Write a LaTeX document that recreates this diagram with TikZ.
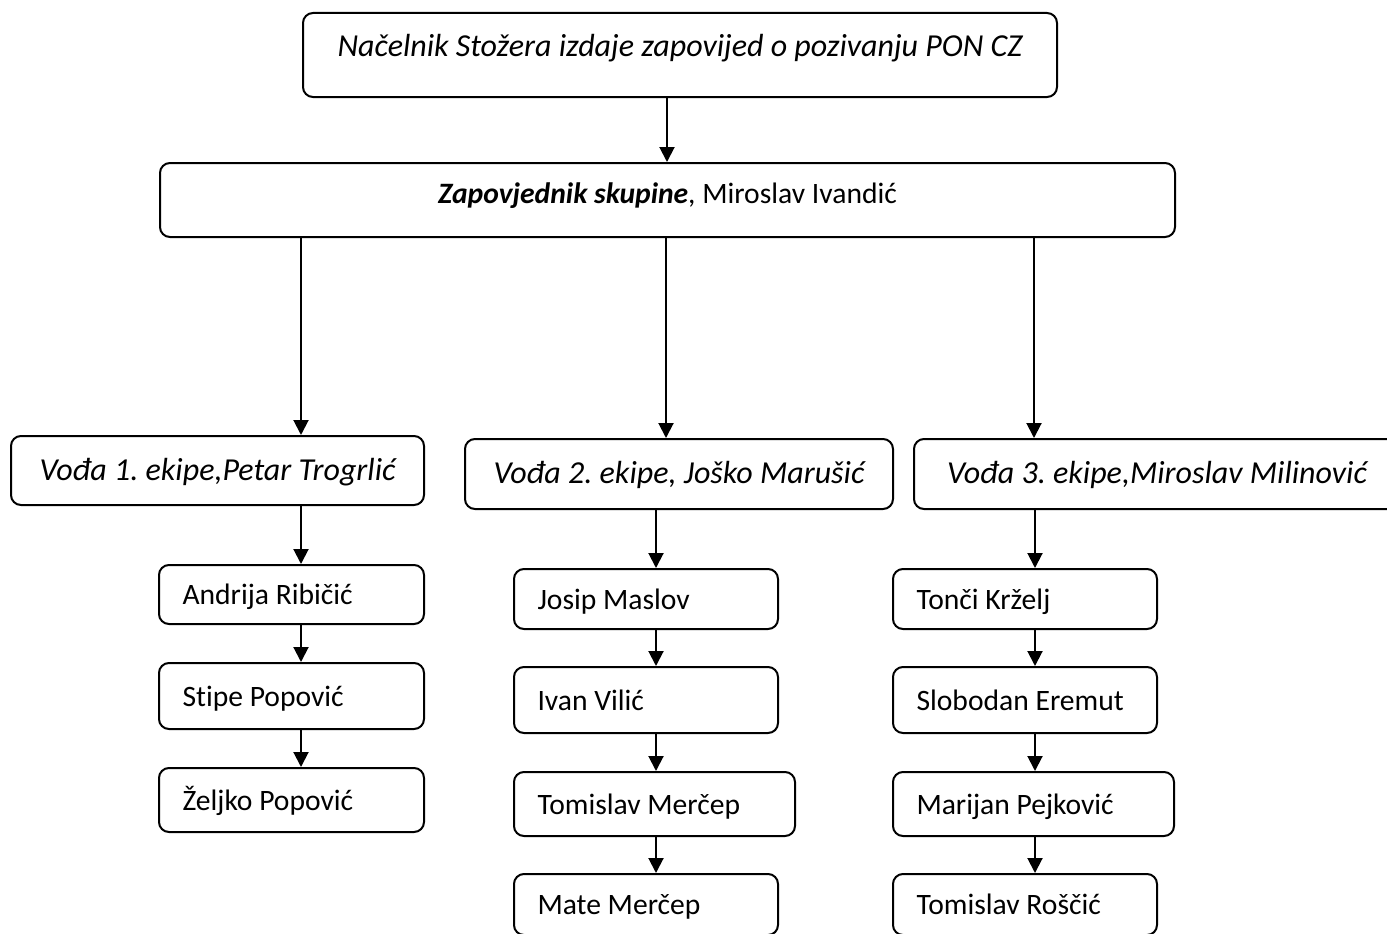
\documentclass[tikz,border=0pt]{standalone}
\usepackage{fontspec}
\setmainfont{Carlito}[Ligatures=CommonOff]
\usetikzlibrary{arrows.meta}
\begin{document}
\frenchspacing
\begin{tikzpicture}[x=1pt,y=-1pt,
  font=\fontsize{29.6pt}{35pt}\selectfont,
  itfont/.style={font=\fontsize{32pt}{38pt}\selectfont\itshape},
  box/.style={draw, line width=2pt, rounded corners=10pt, inner sep=0pt},
  kid/.style={box, align=flush left, inner xsep=23.5pt},
  arr/.style={line width=2pt, -{Triangle[length=15pt,width=15pt]}}]
\useasboundingbox (0,0) rectangle (1387,934);
\fill[white] (0,0) rectangle (1387,934);

% top levels
\node[box, itfont, minimum width=754pt, text height=44pt, text depth=40pt] (top) at (680,55)
  {Načelnik Stožera izdaje zapovijed o pozivanju PON CZ};
\node[box, minimum width=1015pt, text height=40pt, text depth=34pt] (zap) at (667.5,200)
  {\textbf{\textit{Zapovjednik skupine}}, Miroslav Ivandić};

% leaders
\node[box, itfont, minimum width=413pt, text height=44pt, text depth=25pt] (L1) at (217.5,470.5)
  {Vođa 1. ekipe,Petar Trogrlić};
\node[box, itfont, minimum width=428pt, text height=44pt, text depth=26pt] (L2) at (679,474)
  {Vođa 2. ekipe, Joško Marušić};
\node[box, itfont, minimum width=486pt, text height=44pt, text depth=26pt] (L3) at (1157,474)
  {Vođa 3. ekipe,Miroslav Milinović};

% team 1
\node[kid, text width=218pt, text height=39.5pt, text depth=19.5pt] (a1) at (291.5,594.5) {Andrija Ribičić};
\node[kid, text width=218pt, text height=43pt, text depth=23pt] (a2) at (291.5,696) {Stipe Popović};
\node[kid, text width=218pt, text height=42pt, text depth=22pt] (a3) at (291.5,800) {Željko Popović};

% team 2
\node[kid, text width=217pt, text height=40pt, text depth=20pt] (b1) at (646,599) {Josip Maslov};
\node[kid, text width=217pt, text height=43pt, text depth=23pt] (b2) at (646,700) {Ivan Vilić};
\node[kid, text width=234pt, text height=42pt, text depth=22pt] (b3) at (654.5,804) {Tomislav Merčep};
\node[kid, text width=217pt, text height=40.5pt, text depth=20.5pt] (b4) at (646,904.5) {Mate Merčep};

% team 3
\node[kid, text width=217pt, text height=40pt, text depth=20pt] (c1) at (1025,599) {Tonči Krželj};
\node[kid, text width=217pt, text height=43pt, text depth=23pt] (c2) at (1025,700) {Slobodan Eremut};
\node[kid, text width=234pt, text height=42pt, text depth=22pt] (c3) at (1033.5,804) {Marijan Pejković};
\node[kid, text width=217pt, text height=40.5pt, text depth=20.5pt] (c4) at (1025,904.5) {Tomislav Roščić};

% x positions of connectors
\coordinate (xt) at (667,0);
\coordinate (xl1) at (301,0);
\coordinate (xl2) at (666,0);
\coordinate (xl3) at (1034,0);
\coordinate (xk1) at (301,0);
\coordinate (xk2) at (656,0);
\coordinate (xk3) at (1035,0);

\draw[arr] (top.south -| xt) -- (zap.north -| xt);
\draw[arr] (zap.south -| xl1) -- (L1.north -| xl1);
\draw[arr] (zap.south -| xl2) -- (L2.north -| xl2);
\draw[arr] (zap.south -| xl3) -- (L3.north -| xl3);

\draw[arr] (L1.south -| xk1) -- (a1.north -| xk1);
\draw[arr] (a1.south -| xk1) -- (a2.north -| xk1);
\draw[arr] (a2.south -| xk1) -- (a3.north -| xk1);

\draw[arr] (L2.south -| xk2) -- (b1.north -| xk2);
\draw[arr] (b1.south -| xk2) -- (b2.north -| xk2);
\draw[arr] (b2.south -| xk2) -- (b3.north -| xk2);
\draw[arr] (b3.south -| xk2) -- (b4.north -| xk2);

\draw[arr] (L3.south -| xk3) -- (c1.north -| xk3);
\draw[arr] (c1.south -| xk3) -- (c2.north -| xk3);
\draw[arr] (c2.south -| xk3) -- (c3.north -| xk3);
\draw[arr] (c3.south -| xk3) -- (c4.north -| xk3);
\end{tikzpicture}
\end{document}
